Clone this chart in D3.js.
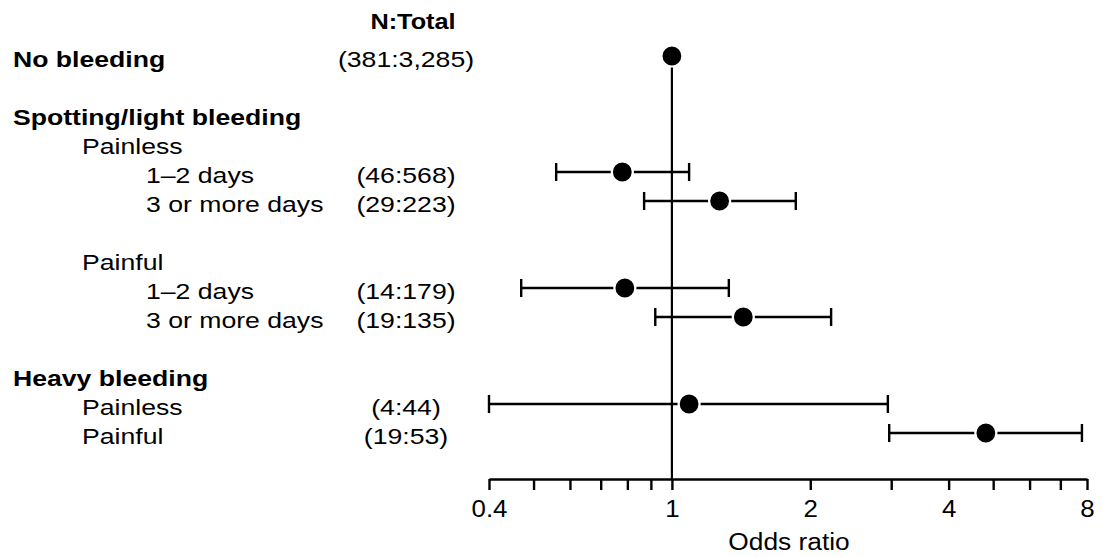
<!DOCTYPE html>
<html>
<head>
<meta charset="utf-8">
<script src="https://cdn.jsdelivr.net/npm/d3@7"></script>
<style>
  body { margin: 0; background: #fff; }
  svg { display: block; }
  text { font-family: "Liberation Sans", Arial, sans-serif; fill: #000; }
</style>
</head>
<body>
<div id="chart"></div>
<script>
// rows top to bottom, "" = blank spacer row
var rowLabels = ["No bleeding", "", "Spotting/light bleeding", "Painless", "1–2 days", "3 or more days",
    "", "Painful", "1–2 days", "3 or more days", "", "Heavy bleeding", "Painless", "Painful"];
var rowLevels = [0, null, 0, 1, 2, 2, null, 1, 2, 2, null, 0, 1, 1];
var counts = ["(381:3,285)", "", "", "", "(46:568)", "(29:223)", "", "", "(14:179)", "(19:135)",
    "", "", "(4:44)", "(19:53)"];
var oddsRatio = [1, null, null, null, 0.78, 1.27, null, null, 0.79, 1.43, null, null, 1.09, 4.82];
var ciLower = [null, null, null, null, 0.56, 0.87, null, null, 0.47, 0.92, null, null, 0.40, 2.97];
var ciUpper = [null, null, null, null, 1.09, 1.86, null, null, 1.33, 2.22, null, null, 2.95, 7.80];
var tickValues = [0.4, 0.5, 0.6, 0.7, 0.8, 0.9, 1, 2, 3, 4, 5, 6, 7, 8];
var tickLabels = [0.4, 1, 2, 4, 8];

var width = 1108, height = 557;
var axisY = 479;
var indent = [13, 82, 146];

var svg = d3.select("#chart")
    .append("svg")
    .attr("width", width)
    .attr("height", height);

var x = d3.scaleLog()
    .domain([0.4, 8])
    .range([489, 1087]);

var y = d3.scaleLinear()
    .domain([0, rowLabels.length - 1])
    .range([56, 433]);

// text is drawn a little wide, like the source figure
function label(px, py, s, size, bold, anchor, sx) {
    svg.append("text")
        .attr("transform", "translate(" + px + "," + py + ") scale(" + sx + ",1)")
        .attr("text-anchor", anchor)
        .style("font-size", size + "px")
        .style("font-weight", bold ? "bold" : "normal")
        .text(s);
}

label(413, 29, "N:Total", 22, true, "middle", 1.15);

rowLabels.forEach(function (d, i) {
    if (!d) return;
    label(indent[rowLevels[i]], y(i) + 10.5, d, 22, rowLevels[i] === 0, "start", 1.21);
});

counts.forEach(function (d, i) {
    if (!d) return;
    label(406, y(i) + 10.5, d, 22, false, "middle", 1.21);
});

// reference line at OR = 1
svg.append("line")
    .attr("x1", x(1)).attr("x2", x(1))
    .attr("y1", y(0)).attr("y2", axisY)
    .style("stroke", "#000")
    .style("stroke-width", 2.2);

var rows = oddsRatio.map(function (d, i) {
    return { i: i, or: d, lo: ciLower[i], hi: ciUpper[i] };
});

var bars = svg.append("g")
    .selectAll("g")
    .data(rows.filter(function (d) { return d.lo != null; }))
    .enter().append("g");

bars.append("line")
    .attr("x1", function (d) { return x(d.lo); })
    .attr("x2", function (d) { return x(d.hi); })
    .attr("y1", function (d) { return y(d.i); })
    .attr("y2", function (d) { return y(d.i); });

bars.append("line")
    .attr("x1", function (d) { return x(d.lo); })
    .attr("x2", function (d) { return x(d.lo); })
    .attr("y1", function (d) { return y(d.i) - 9; })
    .attr("y2", function (d) { return y(d.i) + 9; });

bars.append("line")
    .attr("x1", function (d) { return x(d.hi); })
    .attr("x2", function (d) { return x(d.hi); })
    .attr("y1", function (d) { return y(d.i) - 9; })
    .attr("y2", function (d) { return y(d.i) + 9; });

bars.selectAll("line")
    .style("stroke", "#000")
    .style("stroke-width", 2.4);

svg.append("g")
    .selectAll("circle")
    .data(rows.filter(function (d) { return d.or != null; }))
    .enter().append("circle")
    .attr("cx", function (d) { return x(d.or); })
    .attr("cy", function (d) { return y(d.i); })
    .attr("r", 10.5)
    .style("fill", "#000")
    .style("stroke", "#fff")
    .style("stroke-width", 2.2);

// x axis
var axis = svg.append("g")
    .attr("transform", "translate(0," + axisY + ")")
    .call(d3.axisBottom(x)
        .tickValues(tickValues)
        .tickSize(11)
        .tickSizeOuter(0)
        .tickPadding(10)
        .tickFormat(function (d) { return tickLabels.indexOf(d) >= 0 ? d : ""; }));

axis.select(".domain")
    .style("stroke", "#000")
    .style("stroke-width", 2.4);

axis.selectAll(".tick line")
    .style("stroke", "#000")
    .style("stroke-width", 2.4);

axis.selectAll(".tick text")
    .attr("transform", "scale(1.1,1)")
    .style("font-size", "23.5px")
    .style("font-family", "'Liberation Sans', Arial, sans-serif")
    .style("fill", "#000");

label(789, 550, "Odds ratio", 23.5, false, "middle", 1.12);
</script>
</body>
</html>
